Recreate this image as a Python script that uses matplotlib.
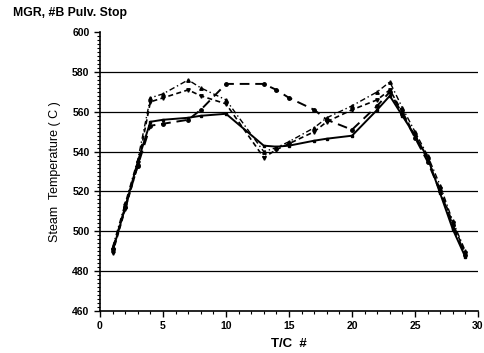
import numpy as np
import matplotlib.pyplot as plt
from matplotlib.ticker import MultipleLocator

plt.rcParams['font.family'] = ['Liberation Sans', 'DejaVu Sans']

# T/C positions and temperatures for the four runs
tc = [1, 2, 3, 4, 5, 7, 8, 10, 13, 14, 15, 17, 18, 20, 22, 23, 24, 25, 26, 27, 28, 29]

run_a = [490, 512, 535, 555, 556, 557, 558, 559, 543, 542.5, 543, 545.5, 546.5, 548,
         561, 568, 558, 548, 537, 519, 501, 487]
run_b = [491, 512, 533, 553, 554, 556, 561, 574, 574, 571, 567, 561, 556, 551,
         563, 570, 559, 547, 535, 520, 503, 488]
run_c = [489, 511, 533, 565, 567, 571, 568, 564, 537, 541, 544, 550, 555, 561,
         566, 571, 560, 548, 536, 521, 504, 489]
run_d = [492, 514, 536, 567, 569, 576, 572, 566, 540, 542, 545, 552, 557, 563,
         570, 575, 562, 550, 538, 523, 505, 490]

fig = plt.figure(figsize=(4.84, 3.53), dpi=100)
ax = fig.add_axes([0.2066, 0.119, 0.7810, 0.790])

ax.plot(tc, run_a, '-', color='black', lw=1.4, marker='s', ms=2)
ax.plot(tc, run_b, color='black', lw=1.4, ls=(0, (5, 3)), marker='o', ms=2.5)
ax.plot(tc, run_c, color='black', lw=1.2, ls=(0, (3, 2)), marker='v', ms=2.5)
ax.plot(tc, run_d, color='black', lw=1.0, ls=(0, (4, 2, 1, 2)), marker='^', ms=2.5)

ax.set_xlim(0, 30)
ax.set_ylim(460, 600)
ax.xaxis.set_major_locator(MultipleLocator(5))
ax.xaxis.set_minor_locator(MultipleLocator(1))
ax.yaxis.set_major_locator(MultipleLocator(20))
ax.yaxis.set_minor_locator(MultipleLocator(2))

for y in range(480, 600, 20):
    ax.axhline(y, color='black', lw=0.9, zorder=0)

for s in ['top', 'right']:
    ax.spines[s].set_visible(False)
ax.spines['left'].set_linewidth(1.2)
ax.spines['bottom'].set_linewidth(1.2)

ax.tick_params(which='major', direction='out', length=4, width=1, labelsize=7.5)
ax.tick_params(which='minor', direction='out', length=2, width=0.8)
for lab in ax.get_xticklabels() + ax.get_yticklabels():
    lab.set_fontweight('bold')

ax.set_xlabel('T/C  #', fontsize=9.5, fontweight='bold', labelpad=5)
ax.set_ylabel('Steam  Temperature ( C )', fontsize=9, labelpad=8)

fig.text(0.027, 0.962, 'MGR, #B Pulv. Stop', fontsize=8.8, fontweight='bold', va='center')

fig.savefig('out.png', dpi=100)
